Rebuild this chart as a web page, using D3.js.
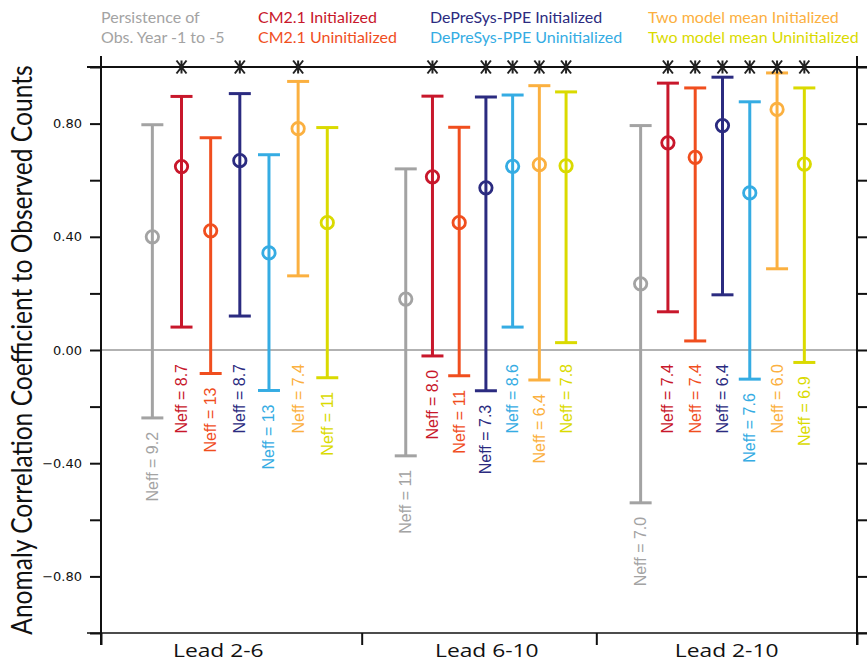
<!DOCTYPE html>
<html><head><meta charset="utf-8">
<script src="https://cdn.jsdelivr.net/npm/d3@7"></script>
<style>body{margin:0;background:#fff}svg{display:block}</style>
</head><body>
<script>
// ---------- DATA ----------
const groups = ["Lead 2-6", "Lead 6-10", "Lead 2-10"];
const seriesNames = ["Persistence of Obs. Year -1 to -5", "CM2.1 Initialized", "CM2.1 Uninitialized",
  "DePreSys-PPE Initialized", "DePreSys-PPE Uninitialized", "Two model mean Initialized", "Two model mean Uninitialized"];
// per group, 7 series
const centerValues = [
  [0.40, 0.648, 0.421, 0.669, 0.343, 0.782, 0.450],
  [0.180, 0.612, 0.450, 0.573, 0.649, 0.655, 0.651],
  [0.234, 0.732, 0.681, 0.793, 0.555, 0.850, 0.657]
];
const upperValues = [
  [0.796, 0.896, 0.750, 0.906, 0.690, 0.949, 0.786],
  [0.640, 0.897, 0.787, 0.894, 0.901, 0.934, 0.912],
  [0.793, 0.943, 0.926, 0.964, 0.877, 0.979, 0.926]
];
const lowerValues = [
  [-0.240, 0.081, -0.083, 0.120, -0.143, 0.262, -0.098],
  [-0.374, -0.021, -0.091, -0.144, 0.081, -0.106, 0.026],
  [-0.540, 0.135, 0.032, 0.195, -0.103, 0.287, -0.044]
];
const neffLabels = [
  ["9.2", "8.7", "13", "8.7", "13", "7.4", "11"],
  ["11", "8.0", "11", "7.3", "8.6", "6.4", "7.8"],
  ["7.0", "7.4", "7.4", "6.4", "7.6", "6.0", "6.9"]
];
const significant = [
  [0, 1, 0, 1, 0, 1, 0],
  [0, 1, 0, 1, 1, 1, 1],
  [0, 1, 1, 1, 1, 1, 1]
];
const yTicks = [-1, -0.8, -0.6, -0.4, -0.2, 0, 0.2, 0.4, 0.6, 0.8, 1];
const yTickLabels = [-0.8, -0.4, 0, 0.4, 0.8];

// ---------- STYLE / LAYOUT ----------
const colors = ["#a3a3a3", "#c8172b", "#f04e1e", "#2b2b80", "#35ace3", "#fbb040", "#dada00"];
const W = 867, H = 663;
const mLeft = 101, mRight = 857, mTop = 67, mBottom = 633;
const xUnits = [0, 29];           // linear axis units
const groupBounds = [0, 10, 19, 29];
const groupLabelPos = [4.5, 14.8, 24.0];
const groupInner = [[1.97, 8.68], [11.69, 17.84], [20.70, 26.98]];

const svg = d3.select("body").append("svg").attr("width", W).attr("height", H);
const x = d3.scaleLinear().domain(xUnits).range([mLeft, mRight]);
const y = d3.scaleLinear().domain([-1, 1]).range([mBottom, mTop]);

const font = "Lato, 'Liberation Sans', sans-serif";

// zero line
svg.append("line").attr("x1", mLeft).attr("x2", mRight).attr("y1", y(0)).attr("y2", y(0))
  .attr("stroke", "#666").attr("stroke-width", 1.2);

// frame lines
svg.append("line").attr("x1", 87).attr("x2", W).attr("y1", y(1)).attr("y2", y(1)).attr("stroke", "#111").attr("stroke-width", 2.2);
svg.append("line").attr("x1", 87).attr("x2", W).attr("y1", y(-1)).attr("y2", y(-1)).attr("stroke", "#111").attr("stroke-width", 1.6);
svg.append("line").attr("x1", x(xUnits[0])).attr("x2", x(xUnits[0])).attr("y1", 56).attr("y2", 645).attr("stroke", "#111").attr("stroke-width", 2);
svg.append("line").attr("x1", x(xUnits[1])).attr("x2", x(xUnits[1])).attr("y1", 56).attr("y2", 645).attr("stroke", "#111").attr("stroke-width", 2);

// left axis ticks
const yAxisL = d3.axisLeft(y).tickValues(yTicks).tickSize(11).tickFormat(d => yTickLabels.some(v => Math.abs(v - d) < 1e-9) ? d3.format(".2f")(d).replace("-", "\u2212") : "");
const gL = svg.append("g").attr("transform", `translate(${mLeft},0)`).call(yAxisL);
gL.select(".domain").remove();
gL.selectAll(".tick line").attr("stroke", "#111").attr("stroke-width", 2);
gL.selectAll(".tick text").attr("x", -19).attr("font-family", "'DejaVu Sans', sans-serif").attr("font-size", 13).attr("fill", "#111").attr("font-weight", 500);

const yAxisR = d3.axisRight(y).tickValues(yTicks).tickSize(10).tickFormat("");
const gR = svg.append("g").attr("transform", `translate(${mRight},0)`).call(yAxisR);
gR.select(".domain").remove();
gR.selectAll(".tick line").attr("stroke", "#111").attr("stroke-width", 2);

// bottom ticks at group boundaries
const xAxis = d3.axisBottom(x).tickValues(groupBounds).tickSize(12).tickFormat("");
const gB = svg.append("g").attr("transform", `translate(0,${mBottom})`).call(xAxis);
gB.select(".domain").remove();
gB.selectAll(".tick line").attr("stroke", "#111").attr("stroke-width", 2);

// group labels
svg.selectAll("text.glabel").data(groups).join("text").attr("class", "glabel")
  .attr("transform", (d, i) => `translate(${x(groupLabelPos[i])},657) scale(1.2,1)`)
  .attr("text-anchor", "middle").attr("font-family", "'Open Sans', sans-serif").attr("font-size", 19).attr("fill", "#111")
  .text(d => d);

// y title
svg.append("text").attr("transform", `translate(32,${(mTop + mBottom) / 2}) rotate(-90) scale(1,1.18)`)
  .attr("text-anchor", "middle").attr("font-family", font).attr("font-size", 24.6).attr("fill", "#111")
  .text("Anomaly Correlation Coefficient to Observed Counts");

// build records
const recs = [];
groups.forEach((g, gi) => {
  const xp = d3.scalePoint().domain(d3.range(seriesNames.length)).range(groupInner[gi].map(x));
  seriesNames.forEach((s, si) => {
    recs.push({ gi, si, cx: xp(si), c: centerValues[gi][si], up: upperValues[gi][si], lo: lowerValues[gi][si],
      neff: neffLabels[gi][si], sig: significant[gi][si] });
  });
});

const capW = 22;
const bars = svg.append("g").selectAll("g").data(recs).join("g");
bars.append("line").attr("x1", d => d.cx).attr("x2", d => d.cx).attr("y1", d => y(d.up)).attr("y2", d => y(d.lo))
  .attr("stroke", d => colors[d.si]).attr("stroke-width", 3);
bars.append("line").attr("x1", d => d.cx - capW / 2).attr("x2", d => d.cx + capW / 2).attr("y1", d => y(d.up)).attr("y2", d => y(d.up))
  .attr("stroke", d => colors[d.si]).attr("stroke-width", 3);
bars.append("line").attr("x1", d => d.cx - capW / 2).attr("x2", d => d.cx + capW / 2).attr("y1", d => y(d.lo)).attr("y2", d => y(d.lo))
  .attr("stroke", d => colors[d.si]).attr("stroke-width", 3);
bars.append("circle").attr("cx", d => d.cx).attr("cy", d => y(d.c)).attr("r", 6.2)
  .attr("fill", "none").attr("stroke", d => colors[d.si]).attr("stroke-width", 2.8);

// Neff labels
bars.append("text")
  .attr("transform", d => `translate(${d.cx + 5.5},${Math.max(y(0), y(d.lo)) + 14}) rotate(-90)`)
  .attr("text-anchor", "end").attr("font-family", "'Liberation Sans', Arial, sans-serif").attr("font-size", 16)
  .attr("fill", d => colors[d.si]).text(d => "Neff = " + d.neff);

// significance stars
const starSym = { draw(ctx) { const r = 6.5, u = 5; ctx.moveTo(0, -r); ctx.lineTo(0, r); ctx.moveTo(-u, -r); ctx.lineTo(u, r); ctx.moveTo(u, -r); ctx.lineTo(-u, r); } };
svg.append("g").selectAll("path").data(recs.filter(d => d.sig)).join("path")
  .attr("transform", d => `translate(${d.cx},${y(1)})`)
  .attr("d", d3.symbol().type(starSym)).attr("fill", "none").attr("stroke", "#222").attr("stroke-width", 2);

// legend
const legendRows = [
  [["Persistence of", 0], ["CM2.1 Initialized", 1], ["DePreSys-PPE Initialized", 3], ["Two model mean Initialized", 5]],
  [["Obs. Year -1 to -5", 0], ["CM2.1 Uninitialized", 2], ["DePreSys-PPE Uninitialized", 4], ["Two model mean Uninitialized", 6]]
];
const legendX = [101, 258, 430, 648];
legendRows.forEach((row, ri) => {
  svg.append("g").selectAll("text").data(row).join("text")
    .attr("x", (d, i) => legendX[i]).attr("y", 23 + ri * 19.5)
    .attr("font-family", font).attr("font-size", 16).attr("fill", d => colors[d[1]])
    .text(d => d[0]);
});
</script>
</body></html>
